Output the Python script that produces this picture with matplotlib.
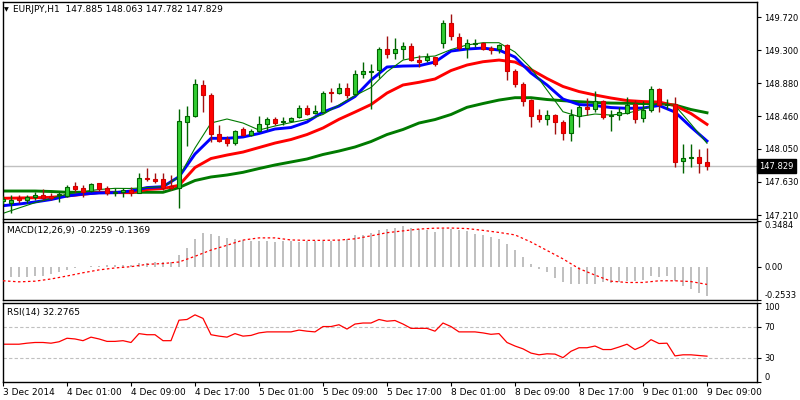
import numpy as np
import matplotlib
matplotlib.use("Agg")
import matplotlib.pyplot as plt
import matplotlib.transforms as mtransforms

plt.rcParams['font.family'] = ['DejaVu Sans']

# EURJPY H1, 3 Dec 2014 17:00 -> 9 Dec 2014 09:00 (one value per bar)
opens = [147.388, 147.367, 147.426, 147.401, 147.435, 147.464, 147.452, 147.460, 147.452, 147.578,
         147.549, 147.519, 147.612, 147.549, 147.490, 147.506, 147.528, 147.490, 147.676, 147.671,
         147.667, 147.578, 147.557, 148.393, 148.465, 148.858, 148.731, 148.237, 148.173, 148.118,
         148.300, 148.220, 148.278, 148.359, 148.422, 148.393, 148.406, 148.449, 148.563, 148.499,
         148.521, 148.774, 148.753, 148.816, 148.740, 148.993, 149.023, 149.048, 149.310, 149.260,
         149.310, 149.356, 149.175, 149.171, 149.209, 149.387, 149.640, 149.470, 149.331, 149.374,
         149.395, 149.323, 149.310, 149.365, 149.040, 148.871, 148.668, 148.474, 148.431, 148.474,
         148.389, 148.246, 148.469, 148.575, 148.558, 148.655, 148.465, 148.474, 148.508, 148.613,
         148.435, 148.541, 148.803, 148.604, 148.617, 147.896, 147.934, 147.946, 147.885]
highs = [147.451, 147.464, 147.464, 147.464, 147.506, 147.540, 147.486, 147.506, 147.591, 147.625,
         147.591, 147.612, 147.620, 147.578, 147.549, 147.557, 147.570, 147.739, 147.802, 147.739,
         147.739, 147.718, 148.550, 148.592, 148.934, 148.921, 148.753, 148.351, 148.211, 148.287,
         148.329, 148.296, 148.465, 148.456, 148.456, 148.456, 148.456, 148.605, 148.605, 148.605,
         148.782, 148.816, 148.880, 148.888, 149.048, 149.153, 149.120, 149.336, 149.483, 149.450,
         149.399, 149.387, 149.238, 149.260, 149.217, 149.682, 149.754, 149.513, 149.437, 149.437,
         149.408, 149.352, 149.378, 149.374, 149.057, 148.900, 148.680, 148.550, 148.541, 148.491,
         148.414, 148.554, 148.605, 148.689, 148.782, 148.668, 148.541, 148.583, 148.710, 148.668,
         148.655, 148.845, 148.816, 148.676, 148.710, 148.111, 148.111, 148.047, 148.063]
lows = [147.350, 147.232, 147.363, 147.363, 147.401, 147.401, 147.401, 147.379, 147.443, 147.506,
        147.435, 147.506, 147.519, 147.464, 147.452, 147.443, 147.452, 147.485, 147.645, 147.620,
        147.528, 147.528, 147.296, 148.085, 148.449, 148.521, 148.139, 148.139, 148.085, 148.098,
        148.211, 148.218, 148.266, 148.287, 148.351, 148.351, 148.389, 148.436, 148.478, 148.491,
        148.508, 148.647, 148.744, 148.689, 148.731, 148.942, 148.550, 148.951, 149.197, 149.184,
        149.188, 149.169, 149.090, 149.153, 149.103, 149.323, 149.428, 149.302, 149.197, 149.343,
        149.308, 149.251, 149.268, 148.921, 148.837, 148.596, 148.330, 148.393, 148.351, 148.237,
        148.161, 148.152, 148.322, 148.478, 148.521, 148.423, 148.279, 148.414, 148.495, 148.372,
        148.393, 148.521, 148.521, 148.561, 147.823, 147.747, 147.823, 147.739, 147.782]
closes = [147.413, 147.401, 147.401, 147.443, 147.464, 147.423, 147.430, 147.473, 147.570, 147.544,
          147.506, 147.600, 147.540, 147.486, 147.506, 147.528, 147.494, 147.676, 147.663, 147.645,
          147.549, 147.553, 148.402, 148.465, 148.867, 148.731, 148.237, 148.152, 148.118, 148.278,
          148.224, 148.275, 148.363, 148.422, 148.379, 148.406, 148.444, 148.563, 148.491, 148.528,
          148.761, 148.753, 148.816, 148.731, 148.993, 149.035, 149.035, 149.310, 149.251, 149.310,
          149.356, 149.175, 149.153, 149.209, 149.124, 149.640, 149.483, 149.331, 149.387, 149.387,
          149.314, 149.302, 149.365, 149.040, 148.871, 148.659, 148.469, 148.431, 148.474, 148.393,
          148.246, 148.474, 148.575, 148.558, 148.655, 148.456, 148.478, 148.520, 148.609, 148.423,
          148.541, 148.803, 148.604, 148.617, 147.886, 147.934, 147.950, 147.866, 147.829]

# moving averages, read every second bar
ma_bars = list(range(0, 89, 2))
ma_blue = [147.329, 147.350, 147.376, 147.407, 147.452, 147.477, 147.490, 147.494, 147.515, 147.559,
           147.570, 147.696, 147.984, 148.183, 148.183, 148.200, 148.244, 148.301, 148.320, 148.390,
           148.516, 148.592, 148.713, 148.922, 149.087, 149.099, 149.103, 149.150, 149.289, 149.315,
           149.327, 149.302, 149.213, 149.011, 148.859, 148.681, 148.611, 148.599, 148.573, 148.563,
           148.567, 148.599, 148.516, 148.326, 148.149]
ma_red = [147.423, 147.426, 147.430, 147.435, 147.452, 147.473, 147.496, 147.495, 147.494, 147.534,
          147.547, 147.587, 147.813, 147.927, 147.971, 148.009, 148.066, 148.123, 148.168, 148.231,
          148.314, 148.424, 148.516, 148.611, 148.757, 148.859, 148.893, 148.935, 149.042, 149.112,
          149.154, 149.175, 149.150, 149.055, 148.941, 148.840, 148.776, 148.732, 148.694, 148.662,
          148.649, 148.643, 148.599, 148.497, 148.360]
ma_green = [147.515, 147.515, 147.515, 147.509, 147.499, 147.499, 147.499, 147.499, 147.499, 147.499,
            147.499, 147.559, 147.648, 147.693, 147.718, 147.752, 147.800, 147.845, 147.883, 147.921,
            147.978, 148.022, 148.073, 148.142, 148.231, 148.295, 148.377, 148.421, 148.485, 148.576,
            148.624, 148.668, 148.698, 148.698, 148.675, 148.660, 148.647, 148.637, 148.630, 148.627,
            148.624, 148.622, 148.605, 148.548, 148.507]
ma_thin = [147.232, 147.300, 147.367, 147.420, 147.477, 147.509, 147.534, 147.549, 147.547, 147.559,
           147.572, 147.693, 148.060, 148.377, 148.428, 148.377, 148.288, 148.339, 148.383, 148.421,
           148.485, 148.605, 148.725, 148.827, 149.027, 149.175, 149.213, 149.226, 149.308, 149.366,
           149.395, 149.395, 149.277, 149.074, 148.795, 148.520, 148.459, 148.491, 148.478, 148.500,
           148.554, 148.630, 148.599, 148.364, 148.120]

macd_main = [-0.083, -0.083, -0.083, -0.083, -0.070, -0.070, -0.057, -0.044, -0.023, -0.013,
             -0.005, 0.008, 0.008, 0.010, 0.010, 0.013, 0.013, 0.026, 0.031, 0.034,
             0.034, 0.039, 0.091, 0.143, 0.216, 0.262, 0.255, 0.236, 0.221, 0.210,
             0.203, 0.197, 0.195, 0.195, 0.194, 0.195, 0.195, 0.194, 0.195, 0.196,
             0.197, 0.200, 0.203, 0.210, 0.242, 0.247, 0.262, 0.281, 0.294, 0.299,
             0.314, 0.299, 0.294, 0.281, 0.268, 0.294, 0.288, 0.281, 0.273, 0.255,
             0.242, 0.229, 0.210, 0.177, 0.130, 0.073, 0.018, -0.018, -0.044, -0.091,
             -0.122, -0.135, -0.135, -0.135, -0.135, -0.122, -0.127, -0.122, -0.109, -0.109,
             -0.104, -0.075, -0.078, -0.070, -0.109, -0.148, -0.174, -0.200, -0.2259]
macd_signal = [-0.109, -0.117, -0.112, -0.095, -0.072, -0.047, -0.025, -0.010, 0.000, 0.018,
               0.024, 0.036, 0.080, 0.128, 0.165, 0.205, 0.222, 0.222, 0.206, 0.203,
               0.203, 0.205, 0.215, 0.238, 0.262, 0.276, 0.290, 0.297, 0.298, 0.294,
               0.280, 0.264, 0.245, 0.190, 0.125, 0.060, -0.015, -0.065, -0.112, -0.122,
               -0.122, -0.109, -0.109, -0.115, -0.1369]

rsi = [47.5, 47.5, 47.5, 48.8, 49.7, 49.7, 48.8, 50.6, 55.1, 54.2,
       52.0, 56.5, 54.2, 51.1, 51.1, 52.0, 49.7, 61.0, 59.6, 59.6,
       52.0, 52.0, 78.1, 79.0, 84.9, 80.4, 59.6, 57.8, 56.5, 61.0,
       57.8, 58.7, 61.9, 63.2, 63.2, 63.2, 63.2, 65.5, 64.1, 63.2,
       70.0, 70.0, 72.3, 66.8, 73.2, 74.5, 74.5, 79.0, 76.8, 77.7,
       73.2, 67.7, 67.7, 67.7, 64.1, 74.5, 70.0, 63.2, 63.2, 63.2,
       61.9, 60.1, 61.0, 49.7, 45.2, 41.6, 36.2, 34.0, 35.3, 34.9,
       30.4, 38.5, 43.0, 43.0, 45.2, 40.7, 40.7, 43.9, 47.5, 40.7,
       45.2, 53.3, 48.4, 48.8, 32.6, 34.0, 34.0, 33.1, 32.2765]

price_ticks = [149.720, 149.300, 148.880, 148.460, 148.050, 147.630, 147.210]
time_labels = ["3 Dec 2014", "4 Dec 01:00", "4 Dec 09:00", "4 Dec 17:00", "5 Dec 01:00",
               "5 Dec 09:00", "5 Dec 17:00", "8 Dec 01:00", "8 Dec 09:00", "8 Dec 17:00",
               "9 Dec 01:00", "9 Dec 09:00"]
last_price = 147.829

FS = 6.5   # general text
FY = 6.0   # right-hand scale labels
o, h, l, c = (np.array(v) for v in (opens, highs, lows, closes))
x = np.arange(len(c))

fig = plt.figure(figsize=(8, 4), dpi=100)
L, W = 2.5 / 800, 754 / 800
ax = fig.add_axes([L, 1 - 219.5 / 400, W, 217.5 / 400])
axm = fig.add_axes([L, 1 - 299.5 / 400, W, 78 / 400], sharex=ax)
axr = fig.add_axes([L, 1 - 381.5 / 400, W, 78.5 / 400], sharex=ax)

# --- price panel
ax.axhline(last_price, color='#c0c0c0', lw=1, zorder=1)
ax.plot(ma_bars, ma_green, color='#007a00', lw=2.1, zorder=2)
ax.plot(ma_bars, ma_red, color='#ff0000', lw=2.1, zorder=2)
ax.plot(ma_bars, ma_blue, color='#0000ff', lw=2.1, zorder=2)
ax.plot(ma_bars, ma_thin, color='#007a00', lw=0.8, zorder=2)

up = c >= o
wick = np.where(up, '#006400', '#a01010')
fill = np.where(up, '#32cd32', '#ff0000')
edge = np.where(up, '#006400', '#d00000')
ax.vlines(x, l, h, colors=wick, lw=1, zorder=3)
body = np.maximum(np.abs(c - o), 0.004)
ax.bar(x, body, bottom=np.minimum(o, c), width=0.55, color=fill,
       edgecolor=edge, lw=0.8, zorder=4)

ax.set_ylim(147.154, 149.911)
ax.set_xlim(-0.0625, 94.19)
ax.yaxis.tick_right()
ax.set_yticks(price_ticks)
ax.set_yticklabels([f"{v:.3f}" for v in price_ticks])
ax.tick_params(axis='y', direction='out', length=3, pad=2.5, labelsize=FY)
ax.tick_params(axis='x', bottom=False, labelbottom=False)

trans = mtransforms.blended_transform_factory(ax.transAxes, ax.transData)
ax.text(1.004, last_price, "147.829", transform=trans, color='white', fontsize=FY,
        va='center', ha='left',
        bbox=dict(boxstyle='square,pad=0.3', fc='black', ec='black'))

fig.text(4 / 800, 1 - 10 / 400, "\u25bc", fontsize=4.5, va='center', ha='left')
fig.text(13 / 800, 1 - 10 / 400, "EURJPY,H1  147.885 148.063 147.782 147.829",
         fontsize=FS, va='center', ha='left')

# --- MACD panel
axm.bar(x, macd_main, width=0.13, color='#c0c0c0', zorder=2)
axm.plot(ma_bars, macd_signal, color='#ff0000', lw=0.9, ls=(0, (2, 2)), zorder=3)
axm.set_ylim(-0.2533, 0.3484)
axm.yaxis.tick_right()
axm.set_yticks([0.3484, 0.0, -0.2533])
axm.set_yticklabels(["0.3484", "0.00", "-0.2533"])
axm.tick_params(axis='y', direction='out', length=3, pad=2.5, labelsize=FY)
axm.tick_params(axis='x', bottom=False, labelbottom=False)
lab = axm.get_yticklabels()
lab[0].set_va('top')
lab[2].set_va('bottom')
fig.text(7 / 800, 1 - 231 / 400, "MACD(12,26,9) -0.2259 -0.1369", fontsize=FS,
         va='center', ha='left')

# --- RSI panel
axr.axhline(70, color='#c0c0c0', lw=0.8, ls=(0, (3, 2)))
axr.axhline(30, color='#c0c0c0', lw=0.8, ls=(0, (3, 2)))
axr.plot(x, rsi, color='#ff0000', lw=0.9)
axr.set_ylim(0, 100)
axr.yaxis.tick_right()
axr.set_yticks([100, 70, 30, 0])
axr.set_yticklabels(["100", "70", "30", "0"])
axr.tick_params(axis='y', direction='out', length=3, pad=2.5, labelsize=FY)
lab = axr.get_yticklabels()
lab[0].set_va('top')
lab[3].set_va('bottom')
axr.set_xticks(list(range(0, 89, 8)))
axr.set_xticklabels(time_labels, ha='left')
axr.tick_params(axis='x', direction='out', length=3, pad=2, labelsize=FS)
fig.text(7 / 800, 1 - 313 / 400, "RSI(14) 32.2765", fontsize=FS, va='center', ha='left')

for a in (ax, axm, axr):
    for s in a.spines.values():
        s.set_color('black')
        s.set_linewidth(1)

fig.savefig("out.png", dpi=100, facecolor='white')
